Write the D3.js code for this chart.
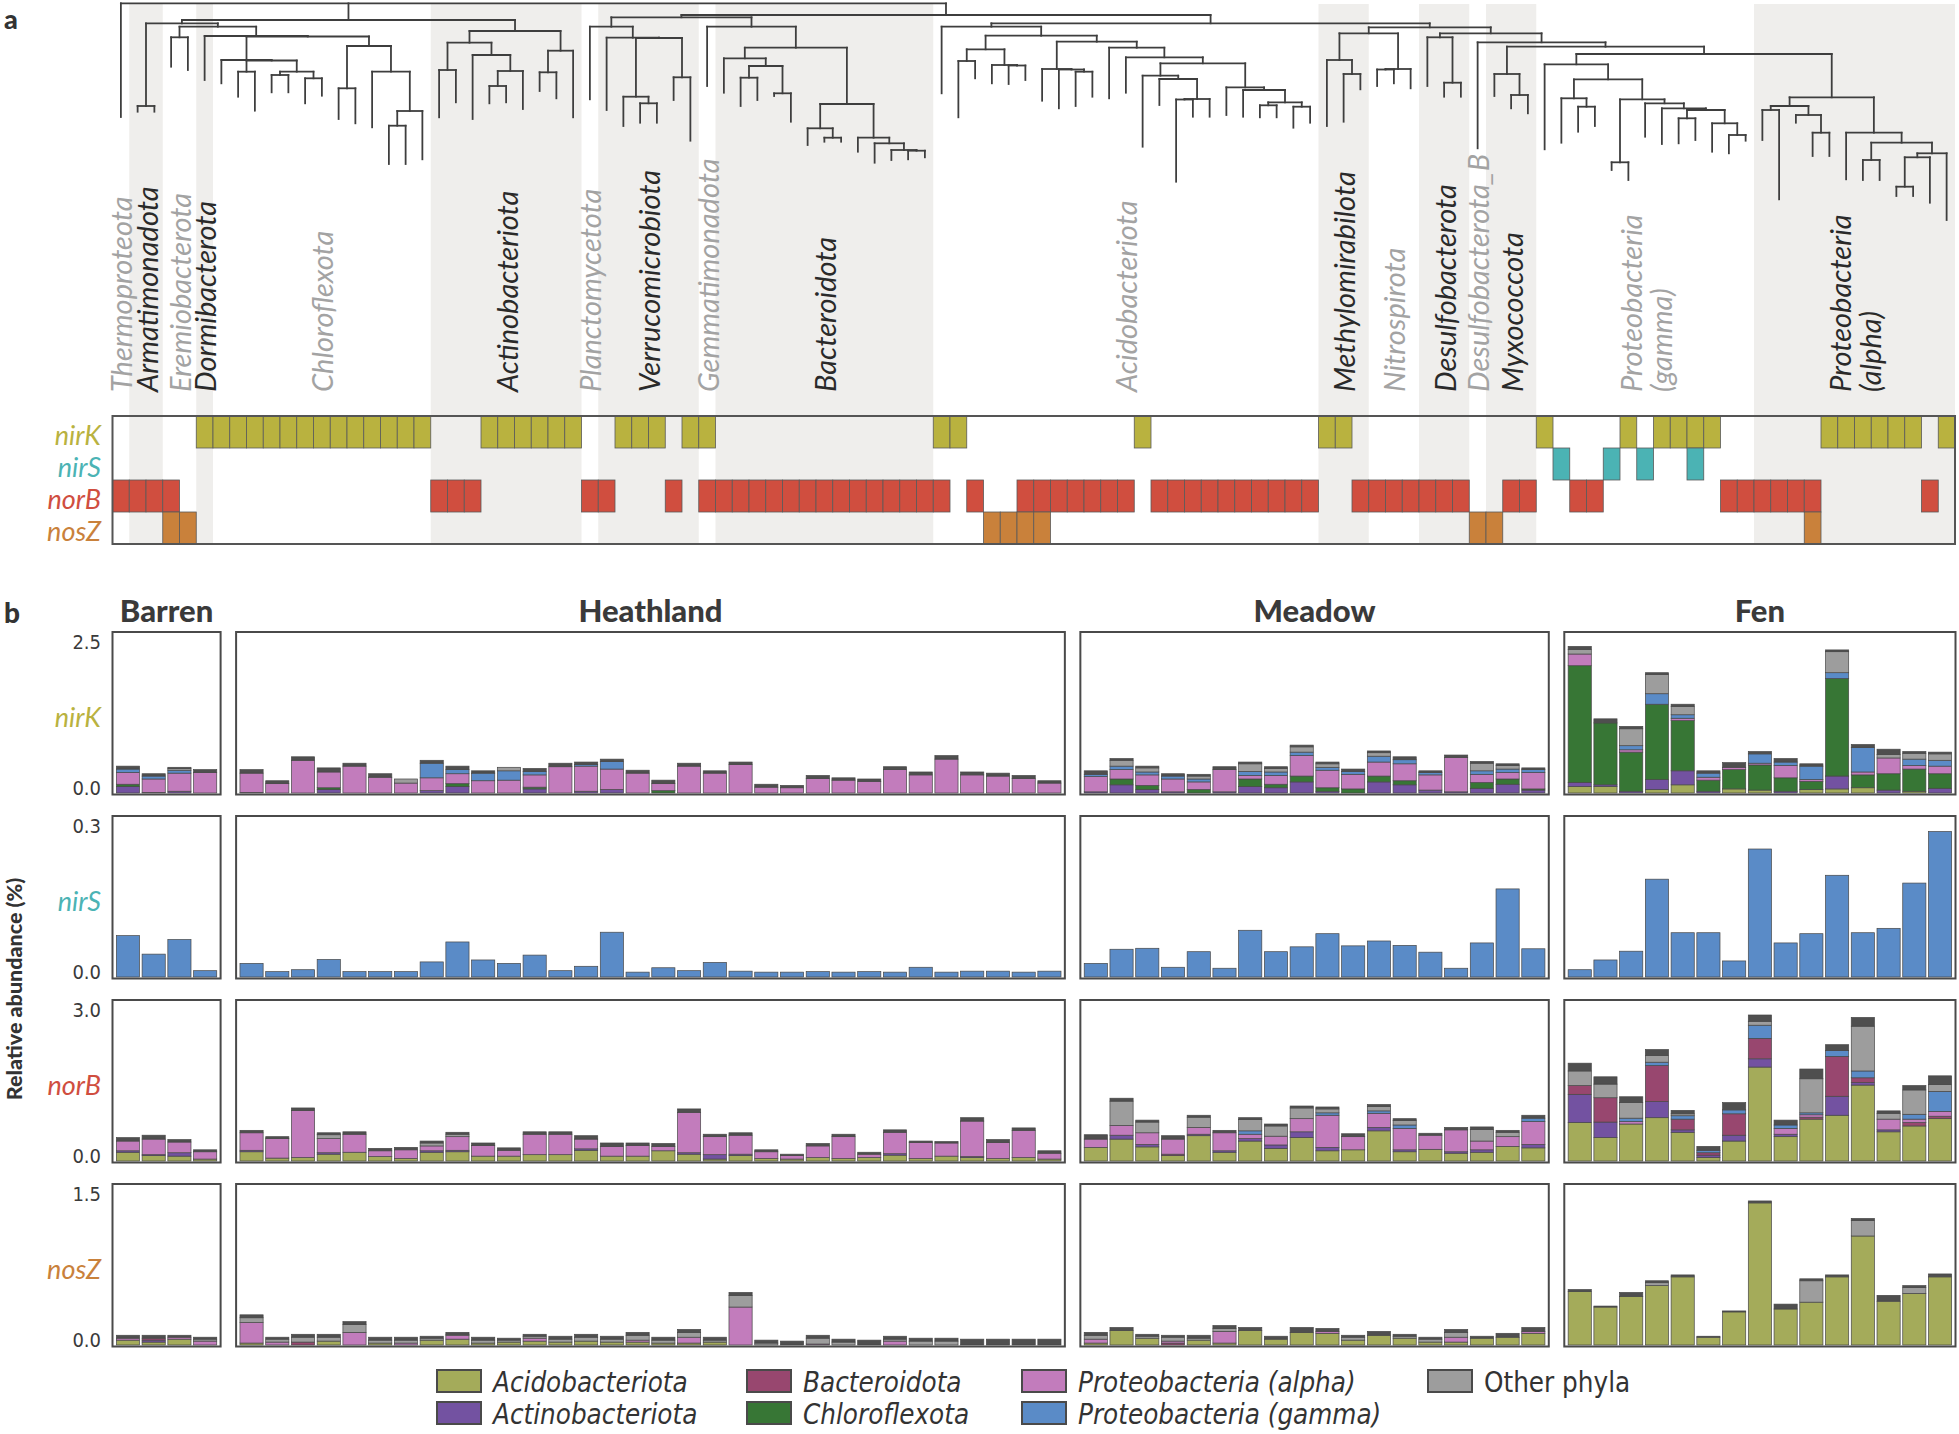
<!DOCTYPE html>
<html><head><meta charset="utf-8">
<script src="https://cdn.jsdelivr.net/npm/d3@7/dist/d3.min.js"></script>
<style>
html,body{margin:0;padding:0;background:#fff;}
svg{display:block;}
</style></head><body>
<svg id="chart" width="1959" height="1434"></svg>
<script>
// ---------------- DATA ----------------
// Phyla in tree/leaf order and number of genomes (leaves) per phylum
const phylumNames = ["Thermoproteota","Armatimonadota","Eremiobacterota","Dormibacterota","Chloroflexota","Actinobacteriota","Planctomycetota","Verrucomicrobiota","Gemmatimonadota","Bacteroidota","Acidobacteriota","Methylomirabilota","Nitrospirota","Desulfobacterota","Desulfobacterota_B","Myxococcota","Proteobacteria (gamma)","Proteobacteria (alpha)"];
const phylumSizes = [1,2,2,1,13,9,1,6,1,13,23,3,3,3,1,3,13,12];

// Tree: [node id, parent id, distance from root]; listed in pre-order (child order = list order)
const treeNodes = [
["root","",0],["g0","root",1.137],
["A1","root",0.167],["A2","A1",0.200],["A3","A2",1.027],["g1","A3",1.084],["g2","A3",1.084],
["A4","A2",0.234],["A5","A4",0.340],["g3","A5",0.634],["g4","A5",0.667],
["A6","A4",0.327],["g5","A6",0.767],["B","A6",0.332],["F","B",0.567],["g6","F",0.800],["G","F",0.572],
["C","G",0.684],["g7","C",0.934],["g8","C",1.074],["E","G",0.684],["E1","E",0.717],["g9","E1",0.890],["g10","E1",0.890],
["E2","E",0.750],["g11","E2",1.000],["g12","E2",0.924],["B2","B",0.427],["B3","B2",0.850],["g13","B3",1.157],["g14","B3",1.200],
["B4","B2",0.684],["g15","B4",1.240],["B5","B4",1.077],["B6","B5",1.224],["g16","B6",1.607],["g17","B6",1.607],["g18","B5",1.560],
["Act","A1",0.277],["Ac1","Act",0.394],["Ac2","Ac1",0.667],["g19","Ac2",1.140],["g20","Ac2",0.990],
["Ac3","Ac1",0.517],["g21","Ac3",1.157],["Ac4","Ac3",0.677],["Ac5","Ac4",0.827],["g22","Ac5",1.000],["g23","Ac5",0.990],["g24","Ac4",1.057],
["Ac6","Act",0.474],["Ac7","Ac6",0.690],["g25","Ac7",0.877],["g26","Ac7",0.950],["g27","Ac6",1.140],
["N","root",0.117],["O","N",0.140],["M","O",0.234],["g28","M",0.960],["H","M",0.344],["g29","H",1.067],["I","H",0.347],
["J","I",0.934],["g30","J",1.227],["K","J",1.000],["g31","K",1.194],["g32","K",1.194],["L","I",0.740],["g33","L",0.967],["g34","L",1.374],
["P","O",0.234],["g35","P",0.827],["Q","P",0.444],["Q1","Q",0.550],["g36","Q1",0.894],["Q2","Q1",0.627],
["Q3","Q2",0.744],["g37","Q3",1.027],["g38","Q3",0.967],["Q4","Q2",0.900],["g39","Q4",0.927],["g40","Q4",1.184],
["Q5","Q",1.007],["Q6","Q5",1.250],["g41","Q6",1.417],["Q7","Q6",1.344],["g42","Q7",1.384],["g43","Q7",1.384],
["Q8","Q5",1.344],["g44","Q8",1.484],["Q9","Q8",1.400],["g45","Q9",1.594],["Q10","Q9",1.467],["g46","Q10",1.567],
["Q11","Q10",1.474],["g47","Q11",1.560],["g48","Q11",1.540],
["R","N",0.200],["R1","R",0.234],["g49","R1",0.900],["S","R1",0.324],["S1","S",0.460],["S2","S1",0.577],["g50","S2",1.140],["g51","S2",0.750],
["S3","S1",0.617],["g52","S3",0.800],["S4","S3",0.622],["g53","S4",0.807],["g54","S4",0.767],
["S5","S",0.384],["T","S5",0.657],["g55","T",0.974],["U","T",0.662],["g56","U",1.050],["V","U",0.684],["g57","V",1.027],["g58","V",0.934],
["S6","S5",0.444],["g59","S6",0.950],["S7","S6",0.540],["g60","S7",0.894],["S8","S7",0.600],["S9","S8",0.724],["g61","S9",1.434],
["S10","S9",0.757],["g62","S10",1.017],["S11","S10",0.957],["S12","S11",0.962],["g63","S12",1.784],["g64","S12",1.134],["g65","S11",1.134],
["S13","S8",0.840],["g66","S13",1.117],["S14","S13",0.867],["g67","S14",1.134],["S15","S14",0.990],
["S16","S15",1.020],["g68","S16",1.140],["g69","S16",1.140],["S17","S15",1.034],["g70","S17",1.244],["g71","S17",1.194],
["Y","R",0.240],["Z","Y",0.300],["Z1","Z",0.567],["g72","Z1",1.227],["Z2","Z1",0.707],["g73","Z2",1.184],["g74","Z2",0.860],
["Z3","Z",0.657],["Z4","Z3",0.662],["g75","Z4",0.827],["g76","Z4",0.800],["g77","Z3",0.850],
["AA","Y",0.300],["BB","AA",0.340],["g78","BB",0.827],["BB1","BB",0.794],["g79","BB1",0.934],["g80","BB1",0.934],
["CC","AA",0.390],["g81","CC",1.450],["DD","CC",0.434],["D1","DD",0.707],["g82","D1",0.927],["D2","D1",0.917],["g83","D2",1.050],["g84","D2",1.100],
["D3","DD",0.507],["EE","D3",0.610],["g85","EE",1.460],["E3","EE",0.760],["E4","E3",0.950],["g86","E4",1.394],
["E5","E4",1.034],["g87","E5",1.284],["g88","E5",1.227],["E6","E3",0.960],["E7","E6",1.590],["g89","E7",1.667],["g90","E7",1.767],
["E8","E6",1.000],["g91","E8",1.334],["FF","E8",1.050],["g92","FF",1.407],["GG","FF",1.067],
["HH","GG",1.150],["g93","HH",1.400],["g94","HH",1.367],["II","GG",1.200],["g95","II",1.484],["JJ","II",1.317],["g96","JJ",1.500],["g97","JJ",1.374],
["KK","D3",0.940],["K1","KK",1.027],["K2","K1",1.067],["g98","K2",1.367],["g99","K2",1.960],
["K3","K1",1.117],["g100","K3",1.194],["K4","K3",1.294],["g101","K4",1.527],["g102","K4",1.527],
["K5","KK",1.294],["g103","K5",1.760],["K6","K5",1.394],["K7","K6",1.567],["g104","K7",1.767],["g105","K7",1.767],
["K8","K6",1.500],["LL","K8",1.540],["MM","LL",1.834],["g106","MM",1.927],["g107","MM",1.927],["g108","LL",1.994],["g109","K8",2.167]
];

// Genes and which genome columns (0-109) carry them
const genes = ["nirK","nirS","norB","nosZ"];
const geneColors = ["#b9b23f","#4bb3b4","#d04e3f","#c9813b"];
const nirK_cols = [5,6,7,8,9,10,11,12,13,14,15,16,17,18,22,23,24,25,26,27,30,31,32,34,35,49,50,61,72,73,85,90,92,93,94,95,102,103,104,105,106,107,109];
const nirS_cols = [86,89,91,94];
const norB_cols = [0,1,2,3,19,20,21,28,29,33,35,36,37,38,39,40,41,42,43,44,45,46,47,48,49,51,54,55,56,57,58,59,60,62,63,64,65,66,67,68,69,70,71,74,75,76,77,78,79,80,83,84,87,88,96,97,98,99,100,101,108];
const nosZ_cols = [3,4,52,53,54,55,81,82,101];

// Habitats (samples per habitat)
const habitats = ["Barren","Heathland","Meadow","Fen"];
const habitatN = [4,32,18,15];
const yTickMax = [2.5,0.3,3.0,1.5];

// Stacked phyla (legend order) ; "minor" = tiny other-phyla genomes (dark slivers)
const stackKeys = ["acido","actino","bacte","chloro","alpha","gamma","other","minor"];
const stackColors = ["#a4ab5a","#7352a1","#98476f","#377635","#c27cbc","#5a8bc7","#9d9d9d","#4f4f4f"];

// Relative abundance (%) per sample: Barren(4) | Heathland(32) | Meadow(18) | Fen(15)
const nirK_acido = [0,0,0,0, 0,0,0,0,0,0,0,0,0,0,0,0,0,0,0,0,0,0,0,0,0,0,0,0,0,0,0,0,0,0,0,0, 0,0,0,0,0,0,0,0,0,0,0,0,0,0,0,0,0,0, 0.11,0.11,0,0.06,0.14,0,0.07,0.05,0,0.06,0.07,0.09,0,0.03,0];
const nirK_actino = [0.11,0.01,0.03,0, 0.01,0,0,0.06,0,0,0,0.04,0.11,0,0,0.07,0,0.03,0.06,0,0,0,0,0,0,0,0,0,0,0,0,0,0,0,0,0, 0.02,0.14,0.06,0.02,0,0.02,0.11,0.09,0.19,0.03,0,0.19,0.14,0.05,0.02,0.08,0.15,0.05, 0.07,0.03,0.03,0.17,0.24,0.03,0,0,0.03,0,0.22,0,0.05,0,0.08];
const nirK_chloro = [0.04,0,0,0, 0,0,0,0.03,0,0,0,0,0.05,0,0,0.03,0,0,0,0,0.04,0,0,0,0,0,0,0,0,0,0,0,0,0,0,0, 0,0.10,0.07,0,0.06,0,0.13,0.06,0.10,0.06,0.07,0.10,0.07,0,0,0.10,0.09,0.02, 2.00,1.06,0.67,1.29,0.86,0.19,0.33,0.43,0.23,0.14,1.67,0.22,0.28,0.38,0.25];
const nirK_alpha = [0.20,0.23,0.31,0.35, 0.33,0.16,0.56,0.27,0.46,0.27,0.17,0.22,0.17,0.21,0.22,0.21,0.45,0.43,0.35,0.34,0.12,0.46,0.34,0.49,0.10,0.09,0.25,0.22,0.20,0.40,0.31,0.58,0.31,0.29,0.25,0.17, 0.26,0.16,0.18,0.22,0.13,0.38,0.06,0.15,0.35,0.30,0.25,0.24,0.29,0.26,0.59,0.14,0.11,0.28, 0.20,0,0.04,0,0.04,0.05,0.04,0.03,0.21,0.03,0,0.05,0.27,0.06,0.13];
const nirK_gamma = [0.06,0.05,0.05,0, 0,0,0,0,0,0,0,0.25,0.07,0.13,0.16,0.06,0,0.03,0.13,0,0,0,0,0,0,0,0,0,0,0,0,0,0,0,0,0, 0.04,0.06,0.05,0.05,0.05,0,0.07,0.06,0.06,0.05,0.05,0.10,0.07,0.04,0,0.06,0.06,0.05, 0,0,0.07,0.18,0.06,0.07,0,0.16,0.06,0.23,0.10,0.42,0,0.11,0.10];
const nirK_other = [0,0,0.03,0, 0,0,0,0,0,0,0.07,0,0,0,0.06,0,0,0,0,0,0,0,0,0,0,0,0,0,0,0,0,0,0,0,0,0, 0,0.10,0.07,0,0.05,0,0.13,0.06,0.09,0.06,0,0.06,0,0,0,0.13,0.06,0, 0.08,0,0.29,0.33,0.14,0,0,0,0,0,0.36,0,0.06,0.10,0.11];
const nirK_minor = [0.05,0.04,0.02,0.05, 0.06,0.05,0.06,0.07,0.05,0.06,0,0.05,0.06,0.04,0,0.05,0.06,0.04,0.04,0.05,0.06,0.05,0.04,0.04,0.05,0.04,0.05,0.04,0.04,0.05,0.05,0.06,0.05,0.05,0.05,0.04, 0.06,0.03,0.03,0.04,0.03,0.05,0.03,0.03,0.03,0.03,0.04,0.03,0.05,0.03,0.04,0.03,0.03,0.03, 0.05,0.07,0.04,0.03,0.04,0.04,0.08,0.04,0.06,0.04,0.03,0.05,0.09,0.03,0.03];

const nirS_gamma = [0.085,0.047,0.077,0.013, 0.028,0.011,0.015,0.036,0.011,0.011,0.011,0.031,0.072,0.035,0.028,0.045,0.013,0.022,0.092,0.010,0.019,0.013,0.030,0.012,0.010,0.010,0.011,0.010,0.011,0.010,0.020,0.010,0.012,0.012,0.010,0.012, 0.028,0.057,0.059,0.020,0.052,0.018,0.096,0.052,0.062,0.089,0.064,0.074,0.065,0.051,0.018,0.070,0.181,0.058, 0.015,0.035,0.053,0.201,0.091,0.091,0.033,0.263,0.070,0.089,0.209,0.091,0.100,0.193,0.299];

const norB_acido = [0.18,0.11,0.10,0.04, 0.19,0.06,0.07,0.14,0.18,0.09,0.05,0.18,0.19,0.10,0.10,0.13,0.13,0.22,0.10,0.10,0.21,0.14,0.04,0.11,0.05,0.04,0.07,0.05,0.07,0.12,0.05,0.10,0.07,0.05,0.07,0.04, 0.28,0.45,0.29,0.11,0.52,0.18,0.41,0.26,0.48,0.21,0.23,0.62,0.19,0.24,0.16,0.18,0.30,0.27, 0.79,0.48,0.76,0.89,0.59,0.07,0.41,1.93,0.50,0.86,0.94,1.56,0.60,0.72,0.87];
const norB_actino = [0.03,0.02,0.07,0, 0.03,0,0,0.03,0,0,0,0.03,0.03,0,0,0,0,0.03,0,0,0,0.03,0.09,0.03,0,0,0,0,0,0.03,0,0,0.02,0,0,0, 0,0.08,0.05,0,0.03,0.03,0.05,0.07,0.12,0.07,0,0.07,0.04,0,0.03,0.05,0,0.07, 0.58,0.32,0,0.33,0.05,0.05,0.12,0.17,0.05,0,0.39,0.05,0.04,0,0];
const norB_bacte = [0,0,0,0, 0,0,0,0,0,0,0,0,0,0,0,0,0,0,0,0,0,0,0,0,0,0,0,0,0,0,0,0,0,0,0,0, 0,0,0,0.03,0,0,0,0,0,0,0,0,0,0,0,0,0,0, 0.18,0.50,0,0.74,0.22,0.05,0.44,0.42,0,0.04,0.82,0.10,0,0.07,0.05];
const norB_alpha = [0.20,0.32,0.22,0.15, 0.36,0.40,0.97,0.29,0.37,0.12,0.18,0.10,0.28,0.22,0.12,0.42,0.42,0.20,0.20,0.22,0.09,0.83,0.37,0.39,0.14,0.07,0.24,0.45,0.07,0.44,0.33,0.27,0.73,0.33,0.56,0.12, 0.17,0.20,0.24,0.31,0.14,0.37,0.09,0.18,0.27,0.66,0.27,0.29,0.44,0.29,0.45,0.18,0.20,0.47, 0,0,0.05,0,0,0,0,0,0.12,0.05,0,0,0.22,0.07,0.10];
const norB_gamma = [0,0,0,0, 0,0,0,0,0,0,0,0,0,0,0,0,0,0,0,0,0,0,0,0,0,0,0,0,0,0,0,0,0,0,0,0, 0,0,0,0,0,0,0.07,0,0,0.05,0,0.05,0.07,0,0,0,0,0.07, 0,0,0.07,0.07,0.07,0.05,0.08,0.27,0.07,0.04,0.12,0.14,0,0.10,0.41];
const norB_other = [0,0,0,0, 0,0,0,0.08,0,0,0,0.06,0.05,0,0,0,0,0,0,0,0,0,0,0,0,0,0,0,0,0,0,0,0,0,0,0, 0,0.50,0.22,0,0.21,0,0.23,0.21,0.22,0.08,0,0.09,0.09,0,0,0.24,0.09,0, 0.30,0.28,0.32,0.14,0.04,0,0,0.08,0,0.70,0,0.92,0.12,0.50,0.14];
const norB_minor = [0.07,0.08,0.05,0.04, 0.05,0.04,0.05,0.04,0.05,0.05,0.05,0.04,0.04,0.05,0.05,0.05,0.05,0.07,0.07,0.05,0.06,0.07,0.05,0.05,0.04,0.03,0.05,0.05,0.04,0.05,0.03,0.03,0.07,0.06,0.05,0.05, 0.09,0.06,0.04,0.07,0.04,0.05,0.04,0.04,0.04,0.04,0.06,0.04,0.04,0.04,0.05,0.05,0.04,0.06, 0.16,0.15,0.12,0.12,0.07,0.08,0.15,0.13,0.10,0.20,0.12,0.18,0.05,0.09,0.18];

const nosZ_acido = [0.05,0.03,0.06,0, 0.02,0,0,0.04,0,0.02,0,0.05,0.06,0.02,0.03,0.04,0.03,0.04,0.03,0.03,0.02,0.02,0.03,0,0,0,0,0,0,0,0,0,0,0,0,0, 0.02,0.15,0.07,0,0.05,0.02,0.15,0.06,0.13,0.12,0.05,0.10,0.07,0.03,0.03,0.07,0.08,0.12, 0.55,0.39,0.50,0.61,0.70,0.08,0.34,1.46,0.37,0.44,0.70,1.12,0.45,0.53,0.70];
const nosZ_actino = [0,0.02,0,0, 0,0,0,0,0,0,0,0,0,0,0,0,0,0,0,0,0,0,0,0,0,0,0,0,0,0,0,0,0,0,0,0, 0,0,0,0,0,0,0,0,0,0,0,0,0,0,0,0,0,0, 0,0,0,0,0,0,0,0,0,0,0,0,0,0,0];
const nosZ_bacte = [0,0.02,0,0, 0,0,0.03,0,0,0,0,0,0,0,0,0,0,0,0,0,0,0,0,0,0,0,0,0,0,0,0,0,0,0,0,0, 0,0,0,0.02,0,0,0,0,0,0,0,0,0,0,0,0,0,0, 0,0,0,0,0,0,0,0,0,0,0,0,0,0,0];
const nosZ_alpha = [0.02,0,0.02,0.04, 0.21,0.03,0,0,0.13,0,0.02,0,0.04,0,0,0.03,0,0,0,0.02,0,0.06,0,0.39,0,0,0.01,0,0,0.04,0,0,0,0,0,0, 0.04,0,0,0.02,0,0.12,0,0,0,0.02,0,0,0,0,0.05,0,0,0.02, 0,0,0,0,0,0,0,0,0,0,0,0,0,0,0];
const nosZ_other = [0,0,0,0.02, 0.05,0.03,0.05,0.04,0.08,0.03,0.03,0.02,0.01,0.03,0.02,0.02,0.03,0.04,0.03,0.05,0.03,0.05,0.02,0.12,0.02,0,0.06,0.03,0,0.02,0.04,0.04,0,0,0,0, 0.04,0,0.02,0.04,0.02,0.03,0,0,0,0,0.03,0,0.02,0.03,0.05,0,0,0, 0,0,0,0.03,0,0,0,0,0,0.22,0,0.16,0,0.06,0];
const nosZ_minor = [0.03,0.03,0.02,0.02, 0.03,0.02,0.03,0.03,0.03,0.03,0.03,0.02,0.02,0.03,0.02,0.02,0.03,0.03,0.03,0.03,0.03,0.03,0.03,0.03,0.03,0.04,0.03,0.03,0.05,0.03,0.03,0.03,0.06,0.06,0.06,0.06, 0.03,0.03,0.02,0.02,0.03,0.03,0.03,0.03,0.05,0.03,0.02,0.04,0.02,0.02,0.03,0.02,0.04,0.04, 0.02,0.01,0.04,0.02,0.02,0.01,0.01,0.02,0.05,0.02,0.02,0.02,0.06,0.02,0.03];

// Legend entries
const legendNames = ["Acidobacteriota","Actinobacteriota","Bacteroidota","Chloroflexota","Proteobacteria (alpha)","Proteobacteria (gamma)","Other phyla"];

// ---------------- DRAWING ----------------
const svg = d3.select("#chart");
const FONT = "Lato, 'Open Sans', 'DejaVu Sans', sans-serif";
const CFONT = "'DejaVu Sans Condensed', 'Liberation Sans Narrow', 'Roboto Condensed', 'DejaVu Sans', sans-serif";
const gridLeft = 112.5, gridRight = 1955, gridTop = 416, gridRowH = 32;
const lineCol = "#3e3e3e";

const root = d3.stratify().id(d => d[0]).parentId(d => d[1] === "" ? null : d[1])(treeNodes);
const leaves = root.leaves();
const colScale = d3.scaleBand().domain(leaves.map(d => d.id)).range([gridLeft, gridRight]);
const bw = colScale.bandwidth();
const depthScale = d3.scaleLinear().domain([0, 1]).range([3.3, 103.3]);
root.eachAfter(n => {
  n.x = n.children ? (n.children[0].x + n.children[n.children.length - 1].x) / 2 : colScale(n.id) + bw / 2;
  n.y = depthScale(n.data[2]);
});

let acc = 0;
const phyRanges = phylumNames.map((name, i) => { const s = acc; acc += phylumSizes[i]; return {name, i, s, e: acc}; });
const leafIds = leaves.map(d => d.id);

const gA = svg.append("g");
gA.selectAll("rect.band").data(phyRanges.filter(d => d.i % 2 === 1)).join("rect")
  .attr("x", d => colScale(leafIds[d.s])).attr("width", d => (d.e - d.s) * bw)
  .attr("y", 4).attr("height", gridTop + 4 * gridRowH - 4)
  .attr("fill", "#efeeec");

const tl = gA.append("g").attr("fill", "none").attr("stroke", lineCol).attr("stroke-width", 1.8).attr("stroke-linecap", "square");
root.descendants().forEach(n => {
  if (n.children) {
    tl.append("line").attr("x1", n.children[0].x).attr("x2", n.children[n.children.length - 1].x).attr("y1", n.y).attr("y2", n.y);
  }
  if (n.parent) {
    tl.append("line").attr("x1", n.x).attr("x2", n.x).attr("y1", n.parent.y).attr("y2", n.y);
  }
});

phyRanges.forEach(d => {
  const cx = colScale(leafIds[d.s]) + (d.e - d.s) * bw / 2;
  const parts = d.name.includes(" (") ? [d.name.split(" (")[0], "(" + d.name.split(" (")[1]] : [d.name];
  parts.forEach((t, k) => {
    const x = cx + (parts.length === 2 ? (k === 0 ? -15 : 15) : 0);
    gA.append("text").attr("transform", `translate(${x},392) rotate(-90)`)
      .attr("dominant-baseline", "central").attr("text-anchor", "start")
      .attr("font-family", FONT).attr("font-style", "italic").attr("font-size", 29)
      .attr("fill", d.i % 2 === 1 ? "#2a2a2a" : "#a3a3a3").text(t);
  });
});

const geneCols = [nirK_cols, nirS_cols, norB_cols, nosZ_cols];
genes.forEach((g, r) => {
  gA.selectAll(null).data(geneCols[r]).join("rect")
    .attr("x", c => colScale(leafIds[c])).attr("width", bw)
    .attr("y", gridTop + r * gridRowH).attr("height", gridRowH)
    .attr("fill", geneColors[r]).attr("stroke", "#5a5a5a").attr("stroke-width", 0.8);
  gA.append("text").attr("x", 101).attr("y", gridTop + r * gridRowH + gridRowH / 2 + 2)
    .attr("text-anchor", "end").attr("dominant-baseline", "central")
    .attr("font-family", FONT).attr("font-style", "italic").attr("font-size", 27)
    .attr("fill", geneColors[r]).text(g);
});
gA.append("rect").attr("x", gridLeft).attr("y", gridTop).attr("width", gridRight - gridLeft).attr("height", 4 * gridRowH)
  .attr("fill", "none").attr("stroke", "#555").attr("stroke-width", 2);

svg.append("text").attr("x", 4).attr("y", 29).attr("font-family", FONT).attr("font-weight", 900).attr("font-size", 27).attr("fill", "#333").text("a");
svg.append("text").attr("x", 4).attr("y", 623).attr("font-family", FONT).attr("font-weight", 900).attr("font-size", 28).attr("fill", "#333").text("b");

// ---------- panel b ----------
const geneStacks = {
  nirK: {acido: nirK_acido, actino: nirK_actino, chloro: nirK_chloro, alpha: nirK_alpha, gamma: nirK_gamma, other: nirK_other, minor: nirK_minor},
  nirS: {gamma: nirS_gamma},
  norB: {acido: norB_acido, actino: norB_actino, bacte: norB_bacte, alpha: norB_alpha, gamma: norB_gamma, other: norB_other, minor: norB_minor},
  nosZ: {acido: nosZ_acido, actino: nosZ_actino, bacte: nosZ_bacte, alpha: nosZ_alpha, other: nosZ_other, minor: nosZ_minor}
};
const nTot = d3.sum(habitatN);
const gapX = 15.5, bLeft = 112.5, bRight = 1955.5;
const step = (bRight - bLeft - gapX * (habitats.length - 1)) / (nTot + 0.2 * habitats.length);
const rowTop0 = 632, rowStep = 184, rowH = 162.5;

let px = bLeft;
const panels = habitats.map((h, i) => {
  const w = step * (habitatN[i] + 0.2);
  const p = {name: h, i, x: px, w, start: d3.sum(habitatN.slice(0, i)), n: habitatN[i]};
  p.band = d3.scaleBand().domain(d3.range(p.n)).range([p.x, p.x + w]).paddingInner(0.1).paddingOuter(0.15);
  px += w + gapX;
  return p;
});

const gB = svg.append("g");
panels.forEach(p => {
  gB.append("text").attr("x", p.x + p.w / 2).attr("y", 622).attr("text-anchor", "middle")
    .attr("font-family", FONT).attr("font-weight", 900).attr("font-size", 31).attr("fill", "#3a3a3a").text(p.name);
});

genes.forEach((g, r) => {
  const T = rowTop0 + r * rowStep, Bt = T + rowH;
  const y = d3.scaleLinear().domain([0, yTickMax[r]]).range([Bt - 1.5, T + 15]);
  const rows = d3.range(nTot).map(i => {
    const o = {};
    stackKeys.forEach(k => { o[k] = geneStacks[g][k] ? geneStacks[g][k][i] : 0; });
    return o;
  });
  const series = d3.stack().keys(stackKeys)(rows);
  panels.forEach(p => {
    const gp = gB.append("g");
    series.forEach((s, si) => {
      gp.selectAll(null).data(s.slice(p.start, p.start + p.n).map((d, j) => ({d, j}))).join("rect")
        .filter(e => e.d[1] - e.d[0] > 0)
        .attr("x", e => p.band(e.j)).attr("width", p.band.bandwidth())
        .attr("y", e => y(e.d[1])).attr("height", e => y(e.d[0]) - y(e.d[1]))
        .attr("fill", stackColors[si]).attr("stroke", "#474747").attr("stroke-width", 0.7);
    });
    gp.append("rect").attr("x", p.x).attr("y", T).attr("width", p.w).attr("height", rowH)
      .attr("fill", "none").attr("stroke", "#4a4a4a").attr("stroke-width", 2);
  });
  [0, yTickMax[r]].forEach(v => {
    gB.append("text").attr("x", 101).attr("y", y(v) - 5).attr("text-anchor", "end").attr("dominant-baseline", "central")
      .attr("font-family", CFONT).attr("font-stretch", "condensed").attr("font-size", 20).attr("fill", "#3a3a3a")
      .text(d3.format(".1f")(v));
  });
  gB.append("text").attr("x", 101).attr("y", (T + Bt) / 2 + 3).attr("text-anchor", "end").attr("dominant-baseline", "central")
    .attr("font-family", FONT).attr("font-style", "italic").attr("font-size", 27).attr("fill", geneColors[r]).text(g);
});

svg.append("text").attr("transform", "translate(14,989) rotate(-90)").attr("text-anchor", "middle").attr("dominant-baseline", "central")
  .attr("font-family", FONT).attr("font-weight", 900).attr("font-size", 21.5).attr("fill", "#333").text("Relative abundance (%)");

const legX = [437, 747, 1022, 1428], legY = [1370, 1402];
const legG = svg.append("g");
legendNames.forEach((name, i) => {
  const cx = legX[Math.floor(i / 2)], cy = legY[i % 2];
  legG.append("rect").attr("x", cx).attr("y", cy).attr("width", 44).attr("height", 22)
    .attr("fill", stackColors[i]).attr("stroke", "#4a4a4a").attr("stroke-width", 2);
  legG.append("text").attr("x", cx + 56).attr("y", cy + 12).attr("dominant-baseline", "central")
    .attr("font-family", CFONT).attr("font-stretch", "condensed").attr("font-size", 27.5)
    .attr("font-style", name === "Other phyla" ? "normal" : "italic").attr("fill", "#333").text(name);
});
</script>
</body></html>
